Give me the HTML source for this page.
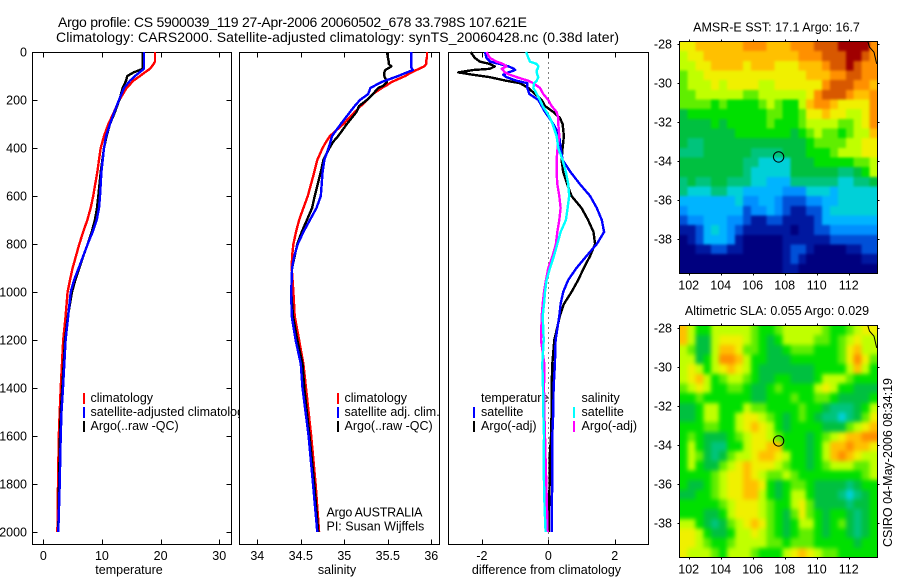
<!DOCTYPE html>
<html>
<head>
<meta charset="utf-8">
<title>Argo profile</title>
<style>
html,body{margin:0;padding:0;background:#fff;}
svg{display:block;}
text{font-family:"Liberation Sans",sans-serif;font-size:12.5px;fill:#000;}
</style>
</head>
<body>
<svg id="chart" width="900" height="580" viewBox="0 0 900 580" xmlns="http://www.w3.org/2000/svg">
  <defs>
    <clipPath id="clip-sst"><rect x="679.5" y="41.5" width="198" height="232"/></clipPath>
    <clipPath id="clip-sla"><rect x="679.5" y="325.5" width="198" height="232"/></clipPath>
    <filter id="soft-sst" filterUnits="userSpaceOnUse" x="650" y="10" width="250" height="290" color-interpolation-filters="sRGB"><feGaussianBlur stdDeviation="1.3"/></filter>
    <filter id="soft-sla" filterUnits="userSpaceOnUse" x="650" y="295" width="250" height="285" color-interpolation-filters="sRGB"><feGaussianBlur stdDeviation="2.2"/></filter>
  </defs>
  <rect x="0" y="0" width="900" height="580" fill="#fff"/>
  <text x="58" y="27" textLength="469" style="font-size:14px">Argo profile: CS 5900039_119 27-Apr-2006 20060502_678 33.798S 107.621E</text>
  <text x="56" y="42" textLength="563" style="font-size:14px">Climatology: CARS2000. Satellite-adjusted climatology: synTS_20060428.nc (0.38d later)</text>

  <g id="panel-temp">
    <rect x="32.5" y="52.5" width="199" height="492" fill="#fff" stroke="#000" stroke-width="1"/>
    <text x="129" y="574" text-anchor="middle">temperature</text>
    <rect x="83" y="393" width="2" height="11" fill="#f00"/>
    <rect x="83" y="407" width="2" height="11" fill="#00f"/>
    <rect x="83" y="421" width="2" height="11" fill="#000"/>
    <text x="90.5" y="402">climatology</text>
    <text x="90.5" y="416">satellite-adjusted climatology</text>
    <text x="90.5" y="430">Argo(..raw -QC)</text>
  </g>

  <g id="panel-sal">
    <rect x="239.5" y="52.5" width="200" height="492" fill="#fff" stroke="#000" stroke-width="1"/>
    <text x="337" y="574" text-anchor="middle">salinity</text>
    <rect x="337" y="393" width="2" height="11" fill="#f00"/>
    <rect x="337" y="407" width="2" height="11" fill="#00f"/>
    <rect x="337" y="421" width="2" height="11" fill="#000"/>
    <text x="344.5" y="402">climatology</text>
    <text x="344.5" y="416">satellite adj. clim.</text>
    <text x="344.5" y="430">Argo(..raw -QC)</text>
    <text x="326.5" y="516.5" textLength="96">Argo AUSTRALIA</text>
    <text x="326.5" y="530.5">PI: Susan Wijffels</text>
  </g>

  <g id="panel-diff">
    <rect x="448.5" y="52.5" width="200" height="492" fill="#fff" stroke="#000" stroke-width="1"/>
    <text x="546.5" y="574" text-anchor="middle">difference from climatology</text>
    <text x="481" y="402">temperature</text>
    <text x="581.5" y="402">salinity</text>
    <rect x="473" y="407" width="2" height="11" fill="#00f"/>
    <rect x="473" y="421" width="2" height="11" fill="#000"/>
    <rect x="573" y="407" width="2" height="11" fill="#0ff"/>
    <rect x="573" y="421" width="2" height="11" fill="#f0f"/>
    <text x="481" y="416">satellite</text>
    <text x="481" y="430">Argo(-adj)</text>
    <text x="581.5" y="416">satellite</text>
    <text x="581.5" y="430">Argo(-adj)</text>
  </g>

  <g id="map-sst">
    <text x="776.5" y="31.5" text-anchor="middle">AMSR-E SST: 17.1 Argo: 16.7</text>
  </g>
  <g id="map-sla">
    <text x="777" y="315" text-anchor="middle">Altimetric SLA: 0.055 Argo: 0.029</text>
  </g>
  <text transform="translate(892,547) rotate(-90)" textLength="169">CSIRO 04-May-2006 08:34:19</text>
</svg>

<script>
/* ---------- depth-profile data ---------- */
const tempDepths = [0,40,50,70,85,100,120,150,200,250,300,350,400,500,600,650,700,750,800,850,900,950,1000,1100,1200,1400,1500,1600,1800,2000];
const tempClimatology = [19.05,19.05,18.8,18.2,17.3,16.49,15.35,14.2,12.96,12.05,11.1,10.35,9.78,9.2,8.5,8.08,7.5,6.8,6.14,5.57,5.0,4.55,4.15,3.8,3.4,2.97,2.8,2.65,2.5,2.4];
const tempSatellite = [17.17,17.17,17.17,17.17,16.4,15.63,14.76,13.76,12.9,12.1,11.37,10.7,10.35,9.9,9.67,9.5,9.1,8.4,7.57,6.8,6.03,5.25,4.67,4.25,3.8,3.36,3.1,2.96,2.79,2.56];
const tempArgo = [16.94,16.94,16.94,16.94,15.4,14.33,14.1,13.53,12.96,12.2,11.37,10.8,10.35,9.78,9.38,9.15,8.8,8.25,7.57,6.82,6.14,5.46,4.9,4.2,3.7,3.24,2.97,2.85,2.68,2.56];

const salDepths = [0,20,40,50,60,65,75,85,100,125,140,150,175,200,225,250,300,350,375,400,450,500,600,650,700,750,800,850,900,1000,1100,1200,1300,1400,1600,1800,2000];
const salClimatology = [35.95,35.95,35.94,35.94,35.92,35.89,35.83,35.77,35.70,35.545,35.48,35.43,35.33,35.26,35.19,35.12,34.99,34.836,34.79,34.75,34.69,34.655,34.58,34.53,34.48,34.445,34.415,34.40,34.395,34.415,34.43,34.48,34.53,34.56,34.62,34.67,34.71];
const salSatellite = [35.77,35.77,35.77,35.77,35.77,35.77,35.79,35.72,35.62,35.43,35.35,35.30,35.275,35.18,35.12,35.065,34.96,34.86,34.84,34.82,34.77,34.75,34.73,34.68,34.605,34.53,34.465,34.425,34.40,34.39,34.395,34.44,34.50,34.52,34.59,34.64,34.69];
const salArgo = [35.49,35.50,35.51,35.51,35.54,35.52,35.47,35.46,35.46,35.49,35.45,35.39,35.33,35.26,35.17,35.14,35.03,34.93,34.87,34.83,34.76,34.73,34.66,34.63,34.57,34.51,34.46,34.43,34.40,34.39,34.41,34.46,34.52,34.54,34.60,34.655,34.70];

const diffDepths = [0,25,40,50,60,70,75,85,95,105,120,130,150,175,200,225,250,275,300,350,400,450,500,550,600,650,700,750,800,850,900,950,1000,1050,1100,1200,1300,1400,1500,1600,1700,1800,1900,2000];
const diffTempArgo = [-2.34,-2.21,-2.06,-1.76,-1.61,-1.76,-2.26,-2.71,-2.26,-1.76,-1.26,-0.85,-0.6,-0.4,-0.2,-0.1,0.15,0.35,0.43,0.47,0.43,0.40,0.45,0.57,0.70,1.0,1.2,1.36,1.41,1.26,1.07,0.9,0.7,0.47,0.35,0.18,0.12,0.10,0.10,0.08,0.04,0.04,0.02,0.02];
const diffTempSatellite = [-1.91,-1.86,-1.76,-1.46,-1.2,-1.03,-1.0,-1.2,-1.36,-1.26,-0.95,-0.63,-0.63,-0.57,-0.3,-0.2,-0.1,0.03,0.15,0.33,0.37,0.43,0.67,0.95,1.26,1.46,1.61,1.68,1.46,1.15,0.85,0.6,0.45,0.37,0.33,0.22,0.2,0.16,0.15,0.12,0.12,0.12,0.1,0.1];
const diffSalArgo = [-1.86,-1.76,-1.56,-1.36,-1.26,-1.41,-1.36,-1.31,-1.15,-0.95,-0.6,-0.45,-0.25,-0.15,0,0.1,0.25,0.3,0.3,0.33,0.28,0.25,0.25,0.27,0.33,0.37,0.33,0.27,0.23,0.13,0,-0.07,-0.13,-0.17,-0.2,-0.22,-0.12,-0.13,-0.12,-0.1,-0.08,-0.06,-0.04,-0.02];
const diffSalSatellite = [-0.67,-0.6,-0.55,-0.35,-0.3,-0.32,-0.35,-0.35,-0.33,-0.3,-0.35,-0.43,-0.45,-0.35,-0.25,-0.17,-0.05,0.05,0.13,0.25,0.3,0.43,0.53,0.6,0.63,0.58,0.53,0.37,0.27,0.17,0.05,-0.05,-0.1,-0.13,-0.17,-0.14,-0.18,-0.16,-0.15,-0.13,-0.14,-0.13,-0.11,-0.08];

/* ---------- tick labels ---------- */
const depthTicks = [0,200,400,600,800,1000,1200,1400,1600,1800,2000];
const tempTicks = [0,10,20,30];
const salTicks = [34,34.5,35,35.5,36];
const diffTicks = [-2,0,2];
const lonTicks = [102,104,106,108,110,112];
const latTicks = [-28,-30,-32,-34,-36,-38];

/* ---------- map data: colour-scale level of each cell, 25 columns by 24 rows, north to south ---------- */
const sstLevels = [
[11,11,12,12,12,12,12,12,13,13,13,12,12,12,13,13,13,14,14,14,15,15,15,15,13],
[10,11,11,12,12,12,12,12,12,12,12,12,12,12,12,13,13,13,14,14,14,15,15,14,13],
[10,10,11,11,12,12,12,12,11,12,12,12,11,11,11,12,12,12,13,14,14,15,14,13,13],
[9,10,10,11,11,11,11,11,11,11,11,11,11,11,11,11,12,12,12,13,13,14,14,13,13],
[9,10,10,10,11,10,11,11,11,11,10,10,11,11,11,11,11,11,13,14,14,14,13,13,12],
[9,9,10,10,10,10,10,10,9,9,10,10,10,10,10,10,11,13,14,14,14,13,12,12,13],
[9,9,9,9,8,9,8,8,8,8,9,10,9,8,8,10,12,13,13,12,11,11,11,11,13],
[7,8,8,8,8,8,8,8,8,8,8,9,9,8,8,9,11,11,12,11,11,10,10,11,13],
[7,7,7,7,8,7,8,8,8,8,8,9,8,8,8,9,10,10,10,10,9,9,10,11,13],
[7,7,7,7,7,7,7,8,8,8,8,8,8,8,7,8,9,10,9,9,8,9,10,10,12],
[7,6,6,7,7,7,7,7,7,7,7,7,7,7,7,7,8,9,9,9,9,10,10,11,11],
[6,6,6,7,7,7,7,7,7,6,6,6,6,7,7,7,8,8,8,9,10,10,10,11,11],
[7,7,7,7,7,7,7,7,6,6,5,5,5,5,7,7,7,8,8,8,8,8,9,9,10],
[7,7,7,7,7,7,7,7,6,5,5,5,5,5,7,7,7,7,7,7,6,6,7,8,10],
[6,7,6,6,7,7,6,6,6,5,5,4,4,4,6,6,6,6,6,6,5,5,6,6,7],
[6,5,5,5,6,6,5,5,4,4,4,4,4,3,3,3,5,5,5,4,5,5,5,5,5],
[4,4,4,4,4,4,4,5,3,3,4,4,3,2,2,2,3,3,4,4,5,5,5,5,5],
[3,4,4,4,4,4,4,4,2,3,3,4,3,2,1,1,2,2,4,5,5,5,5,5,5],
[2,3,3,4,4,4,3,3,2,1,1,2,2,1,1,1,1,2,4,4,4,4,4,4,4],
[1,1,2,4,5,4,3,2,1,1,1,1,1,1,0,1,1,2,2,3,3,3,3,3,3],
[0,1,2,4,4,4,3,1,0,0,0,0,0,1,1,1,1,1,1,2,2,2,2,2,2],
[0,0,1,1,2,2,1,1,0,0,0,0,0,1,2,2,1,0,0,0,0,1,1,2,2],
[0,0,0,0,0,0,0,0,0,0,0,0,0,1,2,1,0,0,0,0,0,0,0,1,1],
[0,0,0,0,0,0,0,0,0,0,0,0,0,1,1,0,0,0,0,0,0,0,0,0,0]
];
const slaLevels = [
[12,10,8,8,10,10,10,10,10,9,8,8,9,10,10,10,10,10,9,8,8,9,10,11,11],
[12,10,7,7,10,11,11,11,10,9,8,7,8,10,10,10,10,9,9,8,9,10,11,10,10],
[10,9,7,7,10,12,12,11,9,9,8,7,7,8,9,9,9,8,8,8,9,11,12,10,10],
[10,10,7,8,10,13,13,12,10,8,8,7,7,7,8,8,8,8,8,8,9,11,13,11,9],
[10,11,10,8,10,11,12,11,10,8,7,7,7,7,7,7,7,8,8,8,8,10,12,10,8],
[10,11,12,10,8,9,10,10,9,8,7,7,8,8,7,7,7,8,10,10,10,9,8,8,8],
[9,10,11,10,8,8,9,9,8,7,7,8,9,8,8,8,8,10,11,10,8,8,7,7,7],
[8,8,9,8,8,8,8,8,8,7,7,8,8,8,9,8,8,9,9,8,7,7,7,7,8],
[7,7,8,10,10,8,8,8,10,9,9,8,8,8,8,9,8,8,7,6,6,6,7,8,10],
[7,7,8,10,10,8,8,10,11,11,10,9,8,7,8,9,8,7,6,6,5,6,7,9,11],
[8,8,8,9,9,8,8,10,11,12,11,10,8,7,8,8,8,8,7,7,7,9,10,11,12],
[8,9,8,7,7,7,8,9,10,11,11,10,9,8,8,8,7,8,9,10,11,12,12,13,13],
[8,10,8,7,6,6,8,8,10,11,11,12,12,8,8,8,7,8,10,12,12,13,12,12,11],
[8,10,9,7,6,7,9,10,10,11,12,12,11,10,8,8,7,8,10,12,13,12,11,10,10],
[8,10,8,7,7,9,10,11,12,11,11,11,10,9,8,8,7,8,9,10,10,10,9,9,10],
[8,8,8,8,9,10,11,11,12,11,10,9,9,10,9,8,8,8,8,8,8,8,8,9,10],
[8,7,7,8,9,10,11,11,12,12,11,8,7,8,9,9,8,7,7,7,7,6,7,8,8],
[7,7,8,8,9,10,11,11,12,12,10,8,7,8,10,10,8,7,7,7,6,5,6,7,8],
[8,8,8,8,8,9,10,11,11,11,10,9,8,8,10,11,9,7,7,7,7,6,7,7,8],
[8,8,8,7,7,8,10,11,11,11,10,9,8,7,9,11,9,8,7,8,8,7,6,7,8],
[10,10,8,7,6,7,9,10,11,12,11,9,8,7,8,10,10,8,7,8,9,7,6,7,8],
[11,11,10,8,7,7,8,10,10,11,10,9,8,7,8,9,9,8,7,8,8,7,6,7,8],
[11,11,10,9,8,8,9,10,10,10,10,9,9,8,9,9,9,8,8,8,8,8,7,8,8],
[11,10,10,10,9,8,10,10,10,9,8,8,8,10,11,12,11,10,9,9,8,8,8,8,8]
];
const floatLon = [107.621];
const floatLat = [-33.798];
const coastLon = [113.2,113.3,113.58,113.75];
const coastLat = [-27.9,-28.17,-28.43,-29.03];
const levelColors = ["#00007f","#0018a0","#0050d8","#0090ff","#00b4ff","#00d0d8","#00c47c","#00c040","#00e000","#60ee00","#c0ff00","#f0f000","#ffc000","#ff9000","#d85800","#a00000"];

/* ---------- drawing ---------- */
const SVGNS = "http://www.w3.org/2000/svg";
function mk(parent, tag, attrs, name) {
  const el = document.createElementNS(SVGNS, tag);
  for (const k in attrs) el.setAttribute(k, attrs[k]);
  
  
  parent.appendChild(el);
  return el;
}
function label(parent, x, y, anchor, str, name) {
  const t = mk(parent, 'text', {x: x, y: y, 'text-anchor': anchor}, name);
  t.textContent = str;
  return t;
}
function tick(parent, x1, y1, x2, y2, name) {
  mk(parent, 'line', {x1: x1, y1: y1, x2: x2, y2: y2, stroke: '#000', 'stroke-width': 1, 'shape-rendering': 'crispEdges'}, name);
}
const depthY = d => 52 + d * 0.24;
const tempX = v => 43.3 + v * 5.865;
const salX = v => 257.3 + (v - 34) * 87;
const diffX = v => 548.3 + v * 33.2;
const TOP = 52.5, BOT = 544.5;

function profile(parent, depths, values, xf, color, name) {
  const pts = values.map((v, i) => xf(v).toFixed(1) + ',' + depthY(depths[i]).toFixed(1)).join(' ');
  mk(parent, 'polyline', {points: pts, fill: 'none', stroke: color, 'stroke-width': 2.4, 'stroke-linejoin': 'round', 'shape-rendering': 'crispEdges'}, name);
}
function xTicks(parent, ticks, xf, prefix) {
  ticks.forEach(v => {
    const x = Math.round(xf(v)) + 0.5;
    tick(parent, x, TOP, x, TOP + 5, prefix + '-top-tick');
    tick(parent, x, BOT - 5, x, BOT, prefix + '-bottom-tick');
    label(parent, xf(v), 560, 'middle', String(v), prefix + '-tick-label');
  });
}

const pTemp = document.getElementById('panel-temp');
const pSal = document.getElementById('panel-sal');
const pDiff = document.getElementById('panel-diff');

depthTicks.forEach(d => {
  const y = Math.round(depthY(d)) + 0.5;
  tick(pTemp, 32.5, y, 37.5, y, 'depth-left-tick');
  tick(pTemp, 226.5, y, 231.5, y, 'depth-right-tick');
  label(pTemp, 27, depthY(d) + 4.5, 'end', String(d), 'depth-tick-label');
});
xTicks(pTemp, tempTicks, tempX, 'temperature');
xTicks(pSal, salTicks, salX, 'salinity');
xTicks(pDiff, diffTicks, diffX, 'difference');

mk(pDiff, 'line', {x1: 548.5, y1: TOP, x2: 548.5, y2: BOT, stroke: '#000', 'stroke-width': 1, 'stroke-dasharray': '1 4', 'shape-rendering': 'crispEdges'}, 'zero-reference-line');

profile(pTemp, tempDepths, tempClimatology, tempX, '#f00', 'temperature-climatology-line');
profile(pTemp, tempDepths, tempArgo, tempX, '#000', 'temperature-argo-line');
profile(pTemp, tempDepths, tempSatellite, tempX, '#00f', 'temperature-satellite-line');

profile(pSal, salDepths, salClimatology, salX, '#f00', 'salinity-climatology-line');
profile(pSal, salDepths, salArgo, salX, '#000', 'salinity-argo-line');
profile(pSal, salDepths, salSatellite, salX, '#00f', 'salinity-satellite-line');

profile(pDiff, diffDepths, diffTempArgo, diffX, '#000', 'diff-temperature-argo-line');
profile(pDiff, diffDepths, diffTempSatellite, diffX, '#00f', 'diff-temperature-satellite-line');
profile(pDiff, diffDepths, diffSalArgo, diffX, '#f0f', 'diff-salinity-argo-line');
profile(pDiff, diffDepths, diffSalSatellite, diffX, '#0ff', 'diff-salinity-satellite-line');

function drawMap(group, levels, top, prefix) {
  const left = 679.5, right = 877.5, bottom = top + 232;
  const lonX = v => 688.7 + (v - 102) * 16;
  const latY = v => top + 2.3 + (-28 - v) * 19.5;
  const cw = (right - left) / 25, ch = (bottom - top) / 24;
  const clipGroup = mk(group, 'g', {'clip-path': 'url(#clip-' + prefix + ')'}, prefix + '-clip-region');
  const cells = mk(clipGroup, 'g', {filter: 'url(#soft-' + prefix + ')'}, prefix + '-cells');
  levels.forEach((row, r) => {
    row.forEach((lv, c) => {
      const padL = c === 0 ? 12 : 0, padR = c === row.length - 1 ? 12 : 0;
      const padT = r === 0 ? 12 : 0, padB = r === levels.length - 1 ? 12 : 0;
      mk(cells, 'rect', {x: (left + c * cw - padL).toFixed(2), y: (top + r * ch - padT).toFixed(2), width: (cw + 0.4 + padL + padR).toFixed(2), height: (ch + 0.4 + padT + padB).toFixed(2), fill: levelColors[lv], 'shape-rendering': 'crispEdges'}, prefix + '-cell');
    });
  });
  const coast = coastLon.map((v, i) => lonX(v).toFixed(1) + ',' + latY(coastLat[i]).toFixed(1)).join(' ');
  mk(clipGroup, 'polyline', {points: coast, fill: 'none', stroke: '#000', 'stroke-width': 1}, prefix + '-coastline');
  mk(group, 'rect', {x: left, y: top, width: right - left, height: bottom - top, fill: 'none', stroke: '#000', 'stroke-width': 1, 'shape-rendering': 'crispEdges'}, prefix + '-frame');
  mk(group, 'circle', {cx: lonX(floatLon[0]).toFixed(1), cy: latY(floatLat[0]).toFixed(1), r: 5.2, fill: 'none', stroke: '#000', 'stroke-width': 1}, prefix + '-float-marker');
  lonTicks.forEach(v => {
    const x = Math.round(lonX(v)) + 0.5;
    tick(group, x, top - 2, x, top, prefix + '-lon-top-tick');
    tick(group, x, bottom, x, bottom + 2, prefix + '-lon-bottom-tick');
    label(group, lonX(v), bottom + 16, 'middle', String(v), prefix + '-lon-label');
  });
  latTicks.forEach(v => {
    const y = Math.round(latY(v)) + 0.5;
    tick(group, left - 2, y, left, y, prefix + '-lat-left-tick');
    tick(group, right, y, right + 2, y, prefix + '-lat-right-tick');
    label(group, 672, latY(v) + 4.5, 'end', String(v), prefix + '-lat-label');
  });
}
drawMap(document.getElementById('map-sst'), sstLevels, 41.5, 'sst');
drawMap(document.getElementById('map-sla'), slaLevels, 325.5, 'sla');
</script>
</body>
</html>
